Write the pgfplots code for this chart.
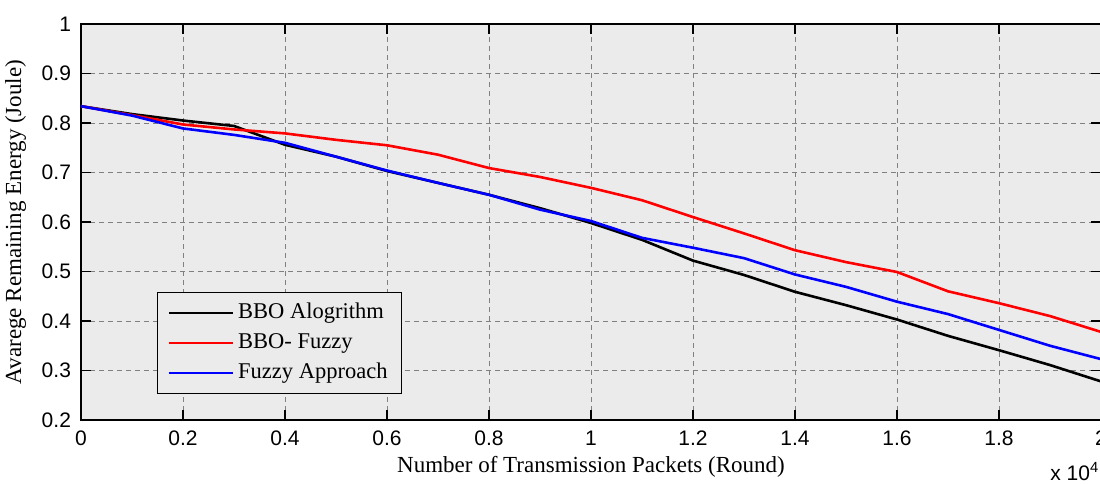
\documentclass[border=0pt]{standalone}
\usepackage{fontspec}
\setmainfont{Liberation Serif}
\setsansfont{Liberation Sans}
\usepackage{pgfplots}
\pgfplotsset{compat=1.18}
\definecolor{bgpanel}{RGB}{235,235,235}
\definecolor{gridgray}{RGB}{128,128,128}

% remaining energy, x in units of 10^4 rounds
\pgfplotstableread{
x     bbo    fuzzybbo  fuzzy
0.0   0.834  0.834     0.834
0.1   0.818  0.816     0.815
0.2   0.805  0.797     0.789
0.3   0.794  0.787     0.776
0.4   0.756  0.779     0.760
0.5   0.732  0.766     0.732
0.6   0.703  0.755     0.704
0.7   0.679  0.736     0.679
0.8   0.655  0.709     0.655
0.9   0.628  0.691     0.625
1.0   0.598  0.669     0.602
1.1   0.564  0.644     0.568
1.2   0.522  0.610     0.548
1.3   0.493  0.577     0.527
1.4   0.459  0.543     0.494
1.5   0.432  0.519     0.469
1.6   0.403  0.499     0.439
1.7   0.370  0.460     0.414
1.8   0.341  0.436     0.382
1.9   0.311  0.410     0.350
2.0   0.278  0.378     0.323
}\energy

\begin{document}
\begin{tikzpicture}
\begin{axis}[
    name=ax,
    scale only axis,
    width=510pt, height=198pt,
    xmin=0, xmax=2,
    ymin=0.2, ymax=1,
    xtick={0,0.2,0.4,0.6,0.8,1,1.2,1.4,1.6,1.8,2},
    ytick={0.2,0.3,0.4,0.5,0.6,0.7,0.8,0.9,1},
    /pgf/number format/assume math mode=true,
    ticklabel style={font=\fontsize{10.5}{12}\selectfont\sffamily},
    xticklabel style={anchor=base, yshift=-12.5pt},
    yticklabel style={anchor=east, xshift=-1.5pt},
    tick align=inside,
    major tick length=5pt,
    tick style={black, line width=0.6pt},
    axis line style={black, line width=0.9pt},
    axis background/.style={fill=bgpanel},
    grid=major,
    grid style={gridgray, line width=0.5pt, dash pattern=on 2.5pt off 2pt},
    xlabel={Number of Transmission Packets (Round)},
    ylabel={Avarege Remaining Energy (Joule)},
    label style={font=\fontsize{11.5}{13}\selectfont},
    xlabel style={at={(axis description cs:0.5,0)}, anchor=base, yshift=-26pt},
    ylabel style={at={(axis description cs:-0.047,0.5)}, anchor=south},
    legend cell align=left,
    legend style={at={(axis cs:0.149,0.4586)}, anchor=north west,
        fill=bgpanel, draw=black, line width=0.6pt,
        font=\fontsize{11.25}{13}\selectfont,
        inner xsep=5pt, inner ysep=3pt, row sep=0.5pt,
        nodes={inner sep=2pt, text height=8pt, text depth=2.5pt}},
    legend image code/.code={\draw[#1] (0pt,0pt) -- (32pt,0pt);},
]
\addplot[black, line width=1.3pt] table[x=x, y=bbo] {\energy};
\addlegendentry{BBO Alogrithm}
\addplot[red, line width=1.3pt] table[x=x, y=fuzzybbo] {\energy};
\addlegendentry{BBO- Fuzzy}
\addplot[blue, line width=1.3pt] table[x=x, y=fuzzy] {\energy};
\addlegendentry{Fuzzy Approach}
\end{axis}
\node[anchor=base west, font=\fontsize{10.5}{12}\selectfont\sffamily, inner sep=0pt]
    at ([xshift=-25.5pt, yshift=-30pt]ax.south east) {x 10\textsuperscript{4}};
\pgfresetboundingbox
\path ([xshift=-40.5pt,yshift=-31.5pt]ax.south west) rectangle ([xshift=-0.5pt,yshift=12pt]ax.north east);
\end{tikzpicture}
\end{document}
